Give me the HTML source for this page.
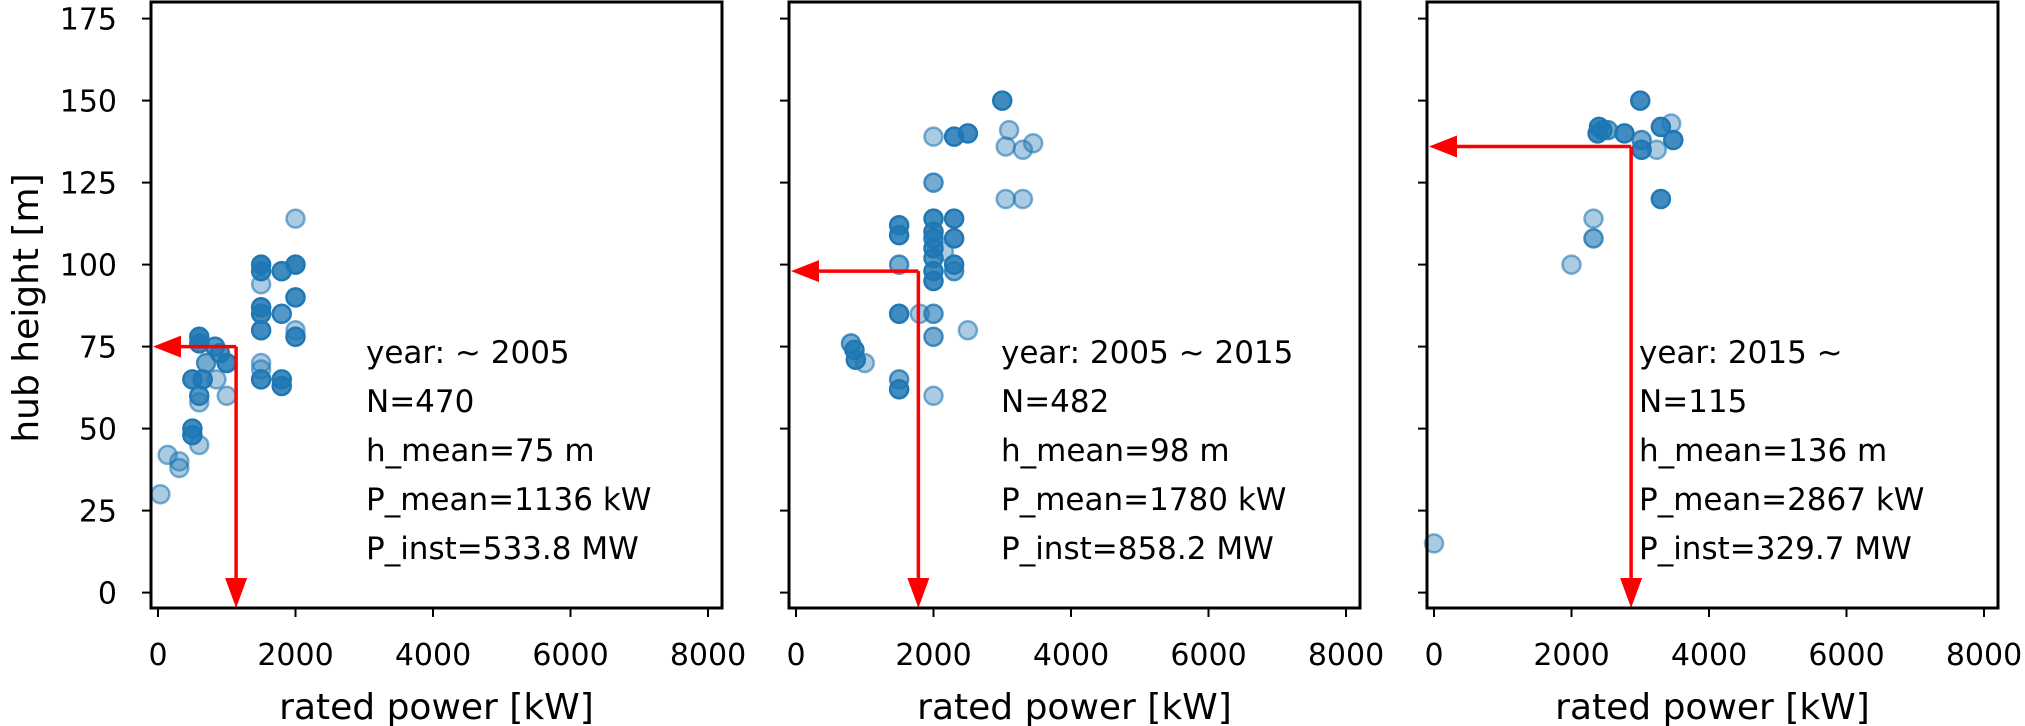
<!DOCTYPE html>
<html><head><meta charset="utf-8"><style>
html,body{margin:0;padding:0;background:#fff;}
svg{display:block;font-family:"DejaVu Sans","Liberation Sans",sans-serif;}
</style></head><body>
<svg id="chart" width="2025" height="726" viewBox="0 0 2025 726" xmlns="http://www.w3.org/2000/svg"></svg>
<script>
const xTicks = [0, 2000, 4000, 6000, 8000];
const yTicks = [0, 25, 50, 75, 100, 125, 150, 175];
const panelTitles = ["year: ~ 2005", "year: 2005 ~ 2015", "year: 2015 ~"];
const panelN = ["N=470", "N=482", "N=115"];
const hMean = [75, 98, 136];
const pMean = [1136, 1780, 2867];
const pInst = ["533.8", "858.2", "329.7"];
// points: [power kW, hub height m, overlap count]
const pts1 = [[35,30,1],[140,42,1],[310,40,1],[310,38,1],[500,50,4],[500,48,4],[600,45,1],[500,65,4],[600,60,3],[600,58,1],[600,78,5],[600,76,4],[830,75,3],[900,73,3],[1000,70,4],[700,70,2],[850,65,1],[1000,60,1],[650,65,4],
 [1500,100,5],[1500,98,4],[1500,94,1],[1500,87,4],[1500,85,4],[1500,80,4],[1500,70,1],[1500,68,1],[1500,65,4],[1800,98,4],[1800,85,3],[1800,65,4],[1800,63,4],[2000,100,5],[2000,90,4],[2000,80,1],[2000,78,4],[2000,114,1]];
const pts2 = [[800,76,2],[850,74,4],[870,71,4],[1000,70,1],[1500,112,4],[1500,109,4],[1500,100,2],[1500,85,4],[1500,65,2],[1500,62,4],[1800,85,1],
 [2000,139,1],[2000,125,2],[2000,114,4],[2000,110,4],[2000,108,3],[2000,105,4],[2000,102,3],[2000,98,4],[2000,95,4],[2000,85,2],[2000,78,2],[2000,60,1],[2150,104,1],
 [2300,139,4],[2300,114,4],[2300,108,4],[2300,100,4],[2300,98,2],[2500,140,4],[2500,80,1],[3000,150,4],[3100,141,1],[3050,136,1],[3300,135,1],[3450,137,1],[3050,120,1],[3300,120,1]];
const pts3 = [[0,15,1],[2000,100,1],[2320,108,2],[2320,114,1],[2400,142,4],[2380,140,4],[2450,141,3],[2530,141,2],[2770,140,4],[3000,150,4],[3020,138,2],[3020,135,4],[3240,135,1],[3300,142,4],[3450,143,1],[3480,138,4],[3300,120,4]];
const allPts = [pts1, pts2, pts3];

const NS = "http://www.w3.org/2000/svg";
const svg = document.getElementById("chart");
const panels = [{l:151,r:722},{l:789,r:1360},{l:1427,r:1998}];
const axTop = 2, axBottom = 608;
function xs(p, v){ return panels[p].l + 7 + v * 0.06875; }
function ys(v){ return 592.6 - v * 3.28; }
function mk(tag, attrs, parent){ const e = document.createElementNS(NS, tag); for (const k in attrs) e.setAttribute(k, attrs[k]); (parent||svg).appendChild(e); return e; }

for (let p = 0; p < 3; p++) {
  const g = mk("g", {});
  
  
  allPts[p].forEach(d => {
    const a = 1 - Math.pow(0.62, d[2]);
    const c = mk("circle", {cx: xs(p, d[0]), cy: ys(d[1]), r: 9, fill: "#1f77b4", "fill-opacity": a, stroke: "#1f77b4", "stroke-opacity": Math.min(1, a + 0.2), "stroke-width": 2.5}, g);
    
    
  });
  const hx = xs(p, pMean[p]), hy = ys(hMean[p]);
  const ar = mk("g", {}, g);
  
  
  mk("line", {x1: hx, y1: hy, x2: panels[p].l + 24, y2: hy, stroke: "#ff0000", "stroke-width": 3.5}, ar);
  mk("polygon", {points: `${panels[p].l+2},${hy} ${panels[p].l+30},${hy-11} ${panels[p].l+30},${hy+11}`, fill: "#ff0000"}, ar);
  mk("line", {x1: hx, y1: hy, x2: hx, y2: axBottom - 24, stroke: "#ff0000", "stroke-width": 3.5}, ar);
  mk("polygon", {points: `${hx},${axBottom} ${hx-11},${axBottom-30} ${hx+11},${axBottom-30}`, fill: "#ff0000"}, ar);
  const fr = mk("rect", {x: panels[p].l, y: axTop, width: panels[p].r - panels[p].l, height: axBottom - axTop, fill: "none", stroke: "#000", "stroke-width": 3}, g);
  
  
  xTicks.forEach(t => {
    const x = xs(p, t);
    mk("line", {x1: x, y1: axBottom, x2: x, y2: axBottom + 9, stroke: "#000", "stroke-width": 2}, g);
    const tx = mk("text", {x: x, y: 665, "font-size": 30, "text-anchor": "middle", fill: "#000"}, g);
    tx.textContent = t;
    
    
  });
  yTicks.forEach(t => {
    const y = ys(t);
    mk("line", {x1: panels[p].l, y1: y, x2: panels[p].l - 9, y2: y, stroke: "#000", "stroke-width": 2}, g);
    if (p === 0) {
      const ty = mk("text", {x: 117, y: y + 11, "font-size": 30, "text-anchor": "end", fill: "#000"}, g);
      ty.textContent = t;
      
      
    }
  });
  const xl = mk("text", {x: (panels[p].l + panels[p].r)/2, y: 719, "font-size": 36, "text-anchor": "middle", fill: "#000"}, g);
  xl.textContent = "rated power [kW]";
  
  
  const lines = [panelTitles[p], panelN[p], "h_mean=" + hMean[p] + " m", "P_mean=" + pMean[p] + " kW", "P_inst=" + pInst[p] + " MW"];
  const tl = [366, 1001, 1639][p];
  lines.forEach((s, i) => {
    const t = mk("text", {x: tl, y: 363 + i * 49, "font-size": 31, fill: "#000"}, g);
    t.textContent = s;
    
    
  });
}
const yl = mk("text", {x: 0, y: 0, "font-size": 36, "text-anchor": "middle", fill: "#000", transform: "translate(38,308) rotate(-90)"});
yl.textContent = "hub height [m]";


</script>
</body></html>
